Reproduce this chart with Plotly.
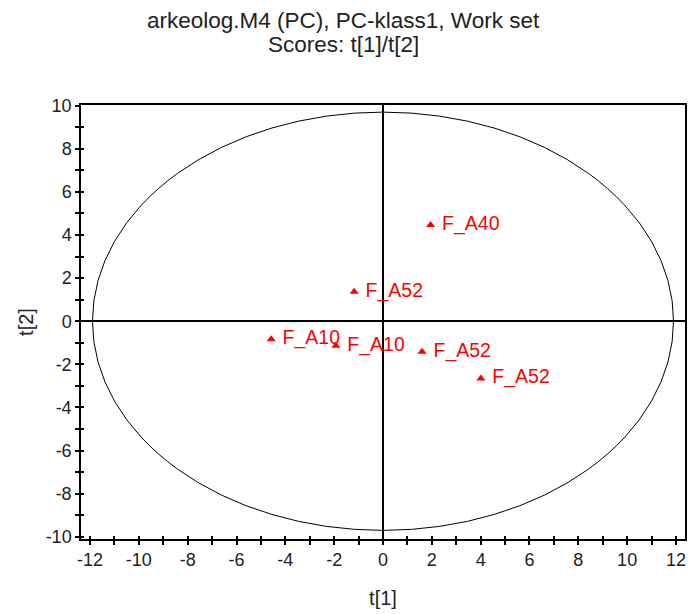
import plotly.graph_objects as go

t1 = [1.95, -1.18, -4.58, -1.93, 1.60, 4.01]
t2 = [4.46, 1.37, -0.84, -1.14, -1.41, -2.65]
labels = ["F_A40", "F_A52", "F_A10", "F_A10", "F_A52", "F_A52"]
ellipse_t1 = 11.9
ellipse_t2 = 9.7
x_ticks = [-12, -10, -8, -6, -4, -2, 0, 2, 4, 6, 8, 10, 12]
y_ticks = [-10, -8, -6, -4, -2, 0, 2, 4, 6, 8, 10]
x_range = [-12.37, 12.37]
y_range = [-10.1, 10.03]
title_lines = ["arkeolog.M4 (PC), PC-klass1, Work set", "Scores: t[1]/t[2]"]

FONT = "Liberation Sans, Arial, sans-serif"
TXT = "#222"

fig = go.Figure()
fig.add_trace(go.Scatter(
    x=t1, y=t2, mode="markers+text", text=labels,
    texttemplate=" %{text}",
    textposition="middle right",
    marker=dict(symbol="triangle-up", size=8, color="red"),
    textfont=dict(color="red", size=19.5, family=FONT),
    showlegend=False, cliponaxis=False,
))
fig.add_trace(go.Scatter(x=[None], y=[None], xaxis="x2", yaxis="y2", showlegend=False))

fig.add_shape(type="circle", xref="x", yref="y",
              x0=-ellipse_t1, x1=ellipse_t1, y0=-ellipse_t2, y1=ellipse_t2,
              line=dict(color="black", width=1), layer="below")

L, R, T, B, W, H = 81, 1, 105, 75, 688, 614
pw, ph = W - L - R, H - T - B
for i, line in enumerate(title_lines):
    ypix = 20 + 25 * i
    fig.add_annotation(text=line, xref="paper", yref="paper",
                       x=(W / 2 - L) / pw, y=(H - B - ypix) / ph,
                       xanchor="center", yanchor="middle", showarrow=False,
                       font=dict(size=22.5, family=FONT, color=TXT))

axis_common = dict(
    showgrid=False, zeroline=True, zerolinecolor="black", zerolinewidth=1.5,
    showline=True, linecolor="black", linewidth=1.5, mirror=True,
    ticks="outside", ticklen=4, tickwidth=1.5, tickcolor="black",
    tickfont=dict(size=18, family=FONT, color=TXT),
    tickmode="array",
    minor=dict(dtick=1, ticks="outside", ticklen=4, tickwidth=1.5, tickcolor="black"),
)
inner_common = dict(
    showticklabels=False, showgrid=False, zeroline=False, showline=False,
    ticks="inside", ticklen=3, tickwidth=1.5, tickcolor="black", tickmode="array",
    minor=dict(dtick=1, ticks="inside", ticklen=3, tickwidth=1.5, tickcolor="black"),
)

fig.update_layout(
    width=W, height=H,
    margin=dict(l=L, r=R, t=T, b=B),
    plot_bgcolor="white", paper_bgcolor="white",
    xaxis=dict(range=x_range, tickvals=x_ticks, ticktext=[str(v) for v in x_ticks],
               title=dict(text="t[1]", font=dict(size=20, family=FONT, color=TXT), standoff=22),
               **axis_common),
    yaxis=dict(range=y_range, tickvals=y_ticks, ticktext=[str(v) for v in y_ticks],
               title=dict(text="t[2]", font=dict(size=20, family=FONT, color=TXT), standoff=7),
               **axis_common),
    xaxis2=dict(overlaying="x", range=x_range, tickvals=x_ticks, side="bottom", **inner_common),
    yaxis2=dict(overlaying="y", range=y_range, tickvals=y_ticks, side="left", **inner_common),
)

fig.write_html("out.html")
